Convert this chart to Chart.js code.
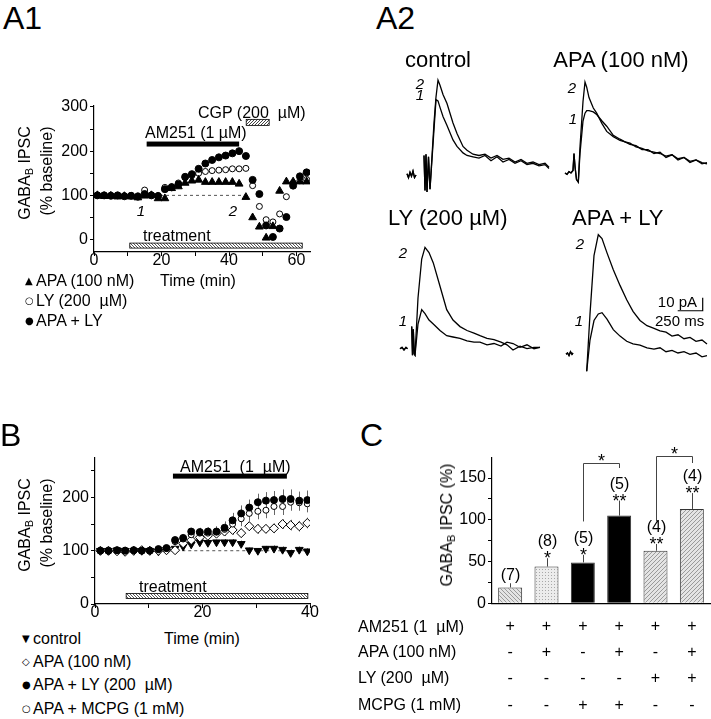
<!DOCTYPE html>
<html>
<head>
<meta charset="utf-8">
<script src="https://cdn.jsdelivr.net/npm/chart.js@4.4.1/dist/chart.umd.min.js"></script>
<style>
  body { margin: 0; background: #fff; }
  #fig { position: relative; width: 711px; height: 719px; overflow: hidden; font-family: "Liberation Sans", Arial, sans-serif; color: #000; }
  #fig canvas { position: absolute; }
  .t { position: absolute; white-space: pre; line-height: 1; font-size: 16px; }
  .c { transform: translate(-50%, -50%); }
  .l { transform: translateY(-50%); }
  .r { transform: translate(-100%, -50%); }
  .rot { transform: translate(-50%, -50%) rotate(-90deg); }
  .big { font-size: 32px; }
  .ttl { font-size: 22px; }
  .num { font-style: italic; font-size: 15px; }
  .sm { font-size: 15px; }
  .mk { display: inline-block; width: 11px; font-family: "DejaVu Sans"; font-size: 10px; position: relative; top: -2px; }
  sub { font-size: 11px; position: relative; top: 3px; vertical-align: baseline; }
</style>
</head>
<body>
<div id="fig">
  <canvas id="cA1" width="320" height="200" style="left:0px;top:80px"></canvas>
  <canvas id="cB" width="320" height="190" style="left:0px;top:440px"></canvas>
  <canvas id="cC" width="271" height="279" style="left:440px;top:440px"></canvas>
  <canvas id="tCtrl" width="150" height="156" style="left:405px;top:45px"></canvas>
  <canvas id="tApa" width="150" height="156" style="left:560px;top:43px"></canvas>
  <canvas id="tLy" width="150" height="156" style="left:395px;top:220px"></canvas>
  <canvas id="tAl" width="150" height="156" style="left:560px;top:223px"></canvas>

  <!-- panel letters -->
  <div class="t big l" style="left:3px;top:18px">A1</div>
  <div class="t big l" style="left:376px;top:18px">A2</div>
  <div class="t big l" style="left:0px;top:435px">B</div>
  <div class="t big l" style="left:360px;top:435px">C</div>

  <!-- A1 texts -->
  <div class="t rot" style="left:25px;top:173px">GABA<sub>B</sub> IPSC</div>
  <div class="t rot" style="left:47px;top:171px">(% baseline)</div>
  <div class="t c" style="left:198px;top:281px">Time (min)</div>
  <div class="t l" style="left:25px;top:281px"><span class="mk">▲</span>APA (100 nM)</div>
  <div class="t l" style="left:25px;top:301px"><span class="mk">○</span>LY (200 &nbsp;µM)</div>
  <div class="t l" style="left:25px;top:321px"><span class="mk">●</span>APA + LY</div>
  <div class="t l" style="left:145px;top:133px">AM251 (1 µM)</div>
  <div class="t l" style="left:198px;top:113px">CGP (200 &nbsp;µM)</div>
  <div class="t l" style="left:143px;top:236px">treatment</div>
  <div class="t num c" style="left:141px;top:210px">1</div>
  <div class="t num c" style="left:233px;top:210px">2</div>

  <!-- A2 texts -->
  <div class="t ttl c" style="left:438px;top:60px">control</div>
  <div class="t ttl c" style="left:621px;top:60px">APA (100 nM)</div>
  <div class="t ttl l" style="left:388px;top:218px">LY (200 µM)</div>
  <div class="t ttl l" style="left:572px;top:218px">APA + LY</div>
  <div class="t num c" style="left:420px;top:83px">2</div>
  <div class="t num c" style="left:420px;top:94px">1</div>
  <div class="t num c" style="left:572px;top:87px">2</div>
  <div class="t num c" style="left:573px;top:118px">1</div>
  <div class="t num c" style="left:403px;top:252px">2</div>
  <div class="t num c" style="left:403px;top:320px">1</div>
  <div class="t num c" style="left:580px;top:243px">2</div>
  <div class="t num c" style="left:579px;top:320px">1</div>
  <div class="t sm r" style="left:697px;top:301px">10 pA</div>
  <div class="t sm l" style="left:655px;top:320px">250 ms</div>

  <!-- B texts -->
  <div class="t rot" style="left:25px;top:525px">GABA<sub>B</sub> IPSC</div>
  <div class="t rot" style="left:47px;top:523px">(% baseline)</div>
  <div class="t c" style="left:202px;top:639px">Time (min)</div>
  <div class="t l" style="left:22px;top:639px"><span class="mk">▼</span>control</div>
  <div class="t l" style="left:22px;top:662px"><span class="mk">◇</span>APA (100 nM)</div>
  <div class="t l" style="left:22px;top:685px"><span class="mk">●</span>APA + LY (200 &nbsp;µM)</div>
  <div class="t l" style="left:22px;top:709px"><span class="mk">○</span>APA + MCPG (1 mM)</div>
  <div class="t l" style="left:180px;top:467px">AM251 &nbsp;(1 &nbsp;µM)</div>
  <div class="t l" style="left:139px;top:587px">treatment</div>

  <!-- C texts -->
  <div class="t rot" style="left:447px;top:525px">GABA<sub>B</sub> IPSC (%)</div>
  <div class="t l" style="left:358px;top:627px">AM251 (1 &nbsp;µM)</div>
  <div class="t l" style="left:358px;top:652px">APA (100 nM)</div>
  <div class="t l" style="left:358px;top:678px">LY (200 &nbsp;µM)</div>
  <div class="t l" style="left:358px;top:705px">MCPG (1 mM)</div>
</div>

<script>
// ---- A1: time course, single experiments ----
const a1Time = [1, 3, 5, 7, 9, 11, 13, 15, 17, 19, 21, 23, 25, 27, 29, 31,
                33, 35, 37, 39, 41, 43, 45, 47, 49, 51, 53, 55, 57, 59, 61, 63];
const a1Apa = [100, 98, 99, 97, 98, 97, 95, 99, 100, 93, 93, 116, 120, 128, 133, 135,
               130, 130, 130, 130, 130, 126, 96, 50, 29, 4, 30, 110, 131, 131, 131, 131];
const a1Ly = [100, 100, 100, 100, 99, 100, 99, 112, 101, 100, 118, 120, 128, 140, 145, 150,
              154, 156, 157, 158, 160, 160, 161, 122, 75, 45, 40, 58, 97, 128, 133, 136];
const a1ApaLy = [100, 100, 99, 100, 98, 99, 97, 103, 100, 98, 114, 118, 125, 142, 148, 160,
                 172, 180, 186, 190, 195, 200, 189, 135, 103, 32, 6, 25, 51, 122, 143, 152];
const a1YTicks = [0, 50, 100, 150, 200, 250, 300];
const a1XTicks = [0, 10, 20, 30, 40, 50, 60];
const a1Am251 = [15.6, 43];
const a1Cgp = [45.1, 51.9];
const a1Treatment = [10.6, 61.7];
const a1Dashed = [16, 45];

// ---- A2: example traces (ms, pA) ----
const ctrlT = [20, 35, 50, 65, 80, 95, 110, 150, 190, 200, 210, 220, 235, 250, 290, 310, 330, 350, 380,
               420, 480, 520, 580, 620, 680, 740, 800, 860, 920, 980, 1040, 1100, 1160, 1220, 1280, 1340, 1400, 1440];
const ctrl2 = [1, -2, 2, -1, 3, -2, 0, null, 15, -12, 16, -13, 14, -11, 40, 60, 73, 69, 62,
               55, 40, 32, 22, 19, 16, 15, 16, 13, 15, 12, 13, 10, 12, 9, 10, 8, 9, 6];
const ctrl1 = [1, -2, 2, -1, 3, -2, 0, null, 15, -12, 16, -13, 14, -11, 35, 58, 57, 52, 45,
               38, 27, 22, 17, 15, 14, 13, 15, 11, 14, 10, 12, 9, 11, 8, 9, 7, 8, 5];

const apaT = [50, 70, 90, 110, 130, 140, 150, 165, 183, 200, 230, 250, 267, 290, 333, 367, 420, 467,
              533, 600, 650, 700, 760, 820, 880, 940, 1000, 1060, 1120, 1180, 1240, 1300, 1360, 1420, 1470];
const apa2 = [0, -1, 1, 0, 2, 15, 5, -5, -7, 20, 55, 70, 66, 58, 50, 46, 38, 32,
              28, 25, 24, 23, 20, 19, 17, 16, 15, 13, 14, 11, 12, 9, 10, 8, 7];
const apa1 = [0, -1, 1, 0, 2, 15, 5, -5, -7, 15, 40, 46, 48, 48, 47, 45, 40, 36,
              29, 26, 24, 22, 21, 18, 18, 15, 16, 12, 14, 10, 12, 8, 10, 7, 8];

const lyT = [50, 70, 90, 110, 125, 150, 167, 175, 183, 192, 200, 230, 267, 300, 340, 383,
             450, 517, 580, 650, 720, 790, 850, 920, 990, 1060, 1120, 1180, 1250, 1320, 1390, 1450];
const ly2 = [1, 2, 0, 2, 1, null, 18, -4, 16, -3, -4, 40, 70, 79, 75, 67,
             49, 31, 23, 18, 15, 13, 11, 9, 8, 6, 4, 0, 3, 1, 2, 2];
const ly1 = [1, 2, 0, 2, 1, null, 18, -4, 16, -3, -4, 20, 31, 28, 23, 20,
             15, 11, 10, 9, 7, 6, 6, 4, 5, 3, 6, 5, 2, 4, 1, 2];

const alT = [60, 75, 90, 105, 120, 130, 200, 267, 300, 340, 383, 420, 470, 533, 600, 667, 730,
             800, 870, 940, 1000, 1060, 1120, 1180, 1240, 1300, 1360, 1420, 1470];
const al2 = [-1, 0, -2, 1, -1, 0, null, -14, 30, 75, 91, 88, 77, 64, 52, 41, 32,
             25, 21, 19, 17, 16, 13, 14, 11, 12, 9, 10, 7];
const al1 = [-1, 0, -2, 1, -1, 0, null, -14, 10, 25, 30, 31, 26, 18, 13, 9, 7,
             6, 4, 3, 4, 1, 2, 0, 1, -1, 0, -3, -2];

const scaleBarMs = [1177, 1427];   // 250 ms
const scaleBarPa = [32.5, 42.5];   // 10 pA

// ---- B: pooled time course ----
const bTime = [1.0, 2.5, 4.1, 5.6, 7.2, 8.7, 10.2, 11.8, 13.3, 14.9, 16.4, 17.9, 19.5,
               21.0, 22.6, 24.1, 25.6, 27.2, 28.7, 30.3, 31.8, 33.3, 34.9, 36.4, 38.0, 39.5];
const bCtrl = [100, 100, 101, 100, 100, 100, 100, 99, 102, 104, 108, 112, 116,
               115, 116, 116, 116, 113, 101, 100, 104, 104, 102, 96, 102, 99];
const bApa = [100, 100, 99, 98, 100, 101, 100, 100, 101, 101, 114, 120, 125,
              128, 132, 136, 139, 133, 146, 141, 141, 142, 150, 148, 146, 152];
const bApaLy = [100, 100, 101, 100, 101, 100, 100, 103, 105, 120, 124, 136, 135,
                136, 136, 143, 157, 170, 181, 191, 194, 195, 197, 197, 194, 195];
const bApaMcpg = [100, 99, 100, 101, 100, 100, 101, 102, 104, 117, 122, 130, 133,
                  133, 135, 140, 150, 160, 170, 174, 176, 183, 183, 191, 190, 188];
const bCtrlSem = [3, 3, 3, 3, 3, 3, 3, 3, 3, 3, 4, 4, 5, 5, 5, 6, 6, 6, 5, 5, 5, 6, 6, 6, 6, 6];
const bApaSem = [3, 3, 3, 3, 3, 3, 3, 3, 3, 3, 4, 5, 5, 6, 7, 8, 9, 9, 9, 9, 8, 9, 9, 10, 10, 10];
const bApaLySem = [3, 3, 3, 3, 3, 3, 3, 3, 3, 3, 5, 6, 8, 8, 10, 12, 14, 15, 15, 16, 16, 17, 18, 18, 17, 18];
const bApaMcpgSem = [3, 3, 3, 3, 3, 3, 3, 3, 3, 3, 5, 6, 7, 7, 9, 10, 12, 14, 14, 15, 15, 16, 16, 16, 15, 16];
const bYTicks = [0, 50, 100, 150, 200, 250];
const bXTicks = [0, 10, 20, 30, 40];
const bAm251 = [14.5, 35.7];
const bTreatment = [5.8, 39.6];
const bDashed = [14, 40];

// ---- C: summary bars ----
const cAm251 = ['+', '+', '+', '+', '+', '+'];
const cApa = ['-', '+', '-', '+', '-', '+'];
const cLy = ['-', '-', '-', '-', '+', '+'];
const cMcpg = ['-', '-', '+', '+', '-', '-'];
const cMean = [19, 44, 49, 105, 63, 113];
const cSem = [5, 10, 9, 18, 8, 19];
const cN = [7, 8, 5, 5, 4, 4];
const cStars = ['', '*', '*', '**', '**', '**'];
const cYTicks = [0, 25, 50, 75, 100, 125, 150];
// [left bar, right bar, left leg bottom, top, right leg bottom]
const cBrackets = [[2, 3, 98, 168, 162], [4, 5, 98, 176, 168]];

Chart.defaults.font.family = '"Liberation Sans", Arial, sans-serif';
Chart.defaults.color = '#000';
Chart.defaults.animation = false;
Chart.defaults.plugins.legend.display = false;
Chart.defaults.plugins.tooltip.enabled = false;

const pts = (xs, ys) => xs.map((x, i) => ({ x: x, y: ys[i] }));

function makePattern(size, draw) {
    const c = document.createElement('canvas');
    c.width = size; c.height = size;
    const g = c.getContext('2d');
    draw(g, size);
    return g.createPattern(c, 'repeat');
}
function hatch(bg, fg, size, back) {
    return makePattern(size, (g, s) => {
        g.fillStyle = bg; g.fillRect(0, 0, s, s);
        g.strokeStyle = fg; g.lineWidth = 1;
        g.beginPath();
        if (back) { g.moveTo(-1, -1); g.lineTo(s + 1, s + 1); }
        else { g.moveTo(-1, s + 1); g.lineTo(s + 1, -1); }
        g.stroke();
    });
}
const treatFill = hatch('#ffffff', '#555555', 3, true);
const cgpFill = hatch('#ffffff', '#444444', 3, false);
const barBack = hatch('#e4e4e4', '#9a9a9a', 4, true);
const barFwd = hatch('#e4e4e4', '#9a9a9a', 4, false);
const barDots = makePattern(3, (g, s) => {
    g.fillStyle = '#ececec'; g.fillRect(0, 0, s, s);
    g.fillStyle = '#a8a8a8'; g.fillRect(0, 0, 1, 1);
});

function yAxis(min, max, ticks, every, width) {
    return {
        type: 'linear', min: min, max: max,
        afterBuildTicks: s => { s.ticks = ticks.map(v => ({ value: v })); },
        afterFit: s => { s.width = width; },
        ticks: { font: { size: 16 }, padding: 2, callback: v => (v % every === 0 ? v : '') },
        grid: { drawOnChartArea: false, tickLength: 4, tickWidth: 1, tickColor: '#000' },
        border: { color: '#000', width: 1.2 }
    };
}
function xAxis(min, max, ticks, every, height) {
    return {
        type: 'linear', min: min, max: max,
        afterBuildTicks: s => { s.ticks = ticks.map(v => ({ value: v })); },
        afterFit: s => { s.height = height; },
        ticks: { font: { size: 16 }, padding: -5, maxRotation: 0, callback: v => (v % every === 0 ? v : '') },
        grid: { drawOnChartArea: false, tickLength: 4, tickWidth: 1, tickColor: '#000' },
        border: { color: '#000', width: 1.2 }
    };
}

// horizontal strips (drug bars, treatment bar, dashed 100% line) in data units
function stripsPlugin(items) {
    return {
        id: 'strips',
        beforeDatasetsDraw(chart) {
            const { ctx, scales: { x, y } } = chart;
            ctx.save();
            items.forEach(it => {
                const x1 = x.getPixelForValue(it.span[0]);
                const x2 = x.getPixelForValue(it.span[1]);
                const yc = y.getPixelForValue(it.at);
                if (it.dash) {
                    ctx.setLineDash([3, 3]);
                    ctx.strokeStyle = '#555'; ctx.lineWidth = 1;
                    ctx.beginPath(); ctx.moveTo(x1, yc); ctx.lineTo(x2, yc); ctx.stroke();
                    ctx.setLineDash([]);
                    return;
                }
                ctx.fillStyle = it.fill;
                ctx.fillRect(x1, yc - it.h / 2, x2 - x1, it.h);
                if (it.edge) {
                    ctx.strokeStyle = '#000'; ctx.lineWidth = 0.8;
                    ctx.strokeRect(x1, yc - it.h / 2, x2 - x1, it.h);
                }
            });
            ctx.restore();
        }
    };
}

function errPlugin(sets) {
    return {
        id: 'errbars',
        beforeDatasetsDraw(chart) {
            const { ctx, scales: { x, y } } = chart;
            ctx.save();
            ctx.strokeStyle = '#666'; ctx.lineWidth = 1;
            sets.forEach(s => {
                s.xs.forEach((t, i) => {
                    const px = Math.round(x.getPixelForValue(t)) + 0.5;
                    ctx.beginPath();
                    ctx.moveTo(px, y.getPixelForValue(s.ys[i] - s.sem[i]));
                    ctx.lineTo(px, y.getPixelForValue(s.ys[i] + s.sem[i]));
                    ctx.stroke();
                });
            });
            ctx.restore();
        }
    };
}

// ---- A1 ----
new Chart(document.getElementById('cA1'), {
    type: 'scatter',
    data: {
        datasets: [
            { data: pts(a1Time, a1ApaLy), pointStyle: 'circle', pointRadius: 3.5, backgroundColor: '#000', borderColor: '#000', borderWidth: 1 },
            { data: pts(a1Time, a1Apa), pointStyle: 'triangle', pointRadius: 4.5, backgroundColor: '#000', borderColor: '#000', borderWidth: 1 },
            { data: pts(a1Time, a1Ly), pointStyle: 'circle', pointRadius: 3, backgroundColor: '#fff', borderColor: '#000', borderWidth: 1 }
        ]
    },
    options: {
        responsive: false, devicePixelRatio: 1,
        layout: { padding: { top: 26, right: 10, left: 0, bottom: 0 } },
        scales: { x: xAxis(0, 64, a1XTicks, 20, 28), y: yAxis(-28, 302, a1YTicks, 100, 94) }
    },
    plugins: [stripsPlugin([
        { span: a1Dashed, at: 100, dash: true },
        { span: a1Am251, at: 216, h: 5, fill: '#000' },
        { span: a1Cgp, at: 265, h: 6, fill: cgpFill, edge: true },
        { span: a1Treatment, at: -13.5, h: 5, fill: treatFill, edge: true }
    ])]
});

// ---- A2 traces ----
function traceChart(id, t, tr1, tr2, extra) {
    const line = { showLine: true, pointRadius: 0, borderColor: '#000', borderWidth: 1.3, spanGaps: false };
    const datasets = [
        Object.assign({ data: pts(t, tr2) }, line),
        Object.assign({ data: pts(t, tr1) }, line)
    ];
    if (extra) datasets.push(Object.assign({ data: extra }, line, { borderWidth: 1.2 }));
    new Chart(document.getElementById(id), {
        type: 'scatter',
        data: { datasets: datasets },
        options: {
            responsive: false, devicePixelRatio: 1,
            layout: { padding: 0 },
            scales: {
                x: { type: 'linear', display: false, min: 0, max: 1500 },
                y: { type: 'linear', display: false, min: -20, max: 100 }
            }
        }
    });
}
traceChart('tCtrl', ctrlT, ctrl1, ctrl2);
traceChart('tApa', apaT, apa1, apa2);
traceChart('tLy', lyT, ly1, ly2);
traceChart('tAl', alT, al1, al2, [
    { x: scaleBarMs[0], y: scaleBarPa[0] },
    { x: scaleBarMs[1], y: scaleBarPa[0] },
    { x: scaleBarMs[1], y: scaleBarPa[1] }
]);

// ---- B ----
new Chart(document.getElementById('cB'), {
    type: 'scatter',
    data: {
        datasets: [
            { data: pts(bTime, bApaLy), pointStyle: 'circle', pointRadius: 3.5, backgroundColor: '#000', borderColor: '#000', borderWidth: 1 },
            { data: pts(bTime, bApaMcpg), pointStyle: 'circle', pointRadius: 3, backgroundColor: '#fff', borderColor: '#000', borderWidth: 1 },
            { data: pts(bTime, bApa), pointStyle: 'rectRot', pointRadius: 4.5, backgroundColor: '#fff', borderColor: '#000', borderWidth: 1 },
            { data: pts(bTime, bCtrl), pointStyle: 'triangle', rotation: 180, pointRadius: 4.5, backgroundColor: '#000', borderColor: '#000', borderWidth: 1 }
        ]
    },
    options: {
        responsive: false, devicePixelRatio: 1,
        layout: { padding: { top: 18, right: 10, left: 0, bottom: 0 } },
        scales: { x: xAxis(0, 40, bXTicks, 20, 26), y: yAxis(0, 274, bYTicks, 100, 95) }
    },
    plugins: [
        stripsPlugin([
            { span: bDashed, at: 100, dash: true },
            { span: bAm251, at: 240, h: 5, fill: '#000' },
            { span: bTreatment, at: 15, h: 5, fill: treatFill, edge: true }
        ]),
        errPlugin([
            { xs: bTime, ys: bApaLy, sem: bApaLySem },
            { xs: bTime, ys: bApaMcpg, sem: bApaMcpgSem },
            { xs: bTime, ys: bApa, sem: bApaSem },
            { xs: bTime, ys: bCtrl, sem: bCtrlSem }
        ])
    ]
});

// ---- C ----
const cExtras = {
    id: 'cExtras',
    afterDatasetsDraw(chart) {
        const { ctx, scales: { x, y } } = chart;
        ctx.save();
        ctx.strokeStyle = '#444'; ctx.lineWidth = 1;
        ctx.fillStyle = '#000'; ctx.textAlign = 'center'; ctx.textBaseline = 'alphabetic';
        cMean.forEach((m, i) => {
            const px = Math.round(x.getPixelForValue(i)) + 0.5;
            const top = y.getPixelForValue(m + cSem[i]);
            ctx.beginPath(); ctx.moveTo(px, y.getPixelForValue(m)); ctx.lineTo(px, top); ctx.stroke();
            if (cStars[i]) {
                ctx.font = '18px "Liberation Sans"';
                ctx.fillText(cStars[i], px, top + 6);
            }
            ctx.font = '16px "Liberation Sans"';
            ctx.fillText('(' + cN[i] + ')', px, top - (cStars[i] ? 17 : 8) + 5);
        });
        cBrackets.forEach(b => {
            const xl = Math.round(x.getPixelForValue(b[0])) + 0.5;
            const xr = Math.round(x.getPixelForValue(b[1])) + 0.5;
            const yt = Math.round(y.getPixelForValue(b[3])) + 0.5;
            ctx.beginPath();
            ctx.moveTo(xl, y.getPixelForValue(b[2]));
            ctx.lineTo(xl, yt); ctx.lineTo(xr, yt);
            ctx.lineTo(xr, y.getPixelForValue(b[4]));
            ctx.stroke();
            ctx.font = '18px "Liberation Sans"';
            ctx.fillText('*', (xl + xr) / 2, yt + 3);
        });
        ctx.restore();
    }
};

new Chart(document.getElementById('cC'), {
    type: 'bar',
    data: {
        labels: cMean.map((_, i) => [cAm251[i], cApa[i], cLy[i], cMcpg[i]]),
        datasets: [{
            data: cMean,
            backgroundColor: [barBack, barDots, '#000', '#000', barFwd, barFwd],
            borderColor: '#333', borderWidth: 1,
            categoryPercentage: 1, barPercentage: 0.66
        }]
    },
    options: {
        responsive: false, devicePixelRatio: 1,
        layout: { padding: { top: 18, right: 1, left: 0, bottom: 0 } },
        scales: {
            x: {
                afterFit: s => { s.height = 115.7; },
                ticks: { font: { size: 16, lineHeight: 1.64 }, padding: 10, autoSkip: false, maxRotation: 0 },
                grid: { display: false, drawTicks: false },
                border: { color: '#000', width: 1.2 }
            },
            y: yAxis(0, 174, cYTicks, 50, 52)
        }
    },
    plugins: [cExtras]
});
</script>
</body>
</html>
